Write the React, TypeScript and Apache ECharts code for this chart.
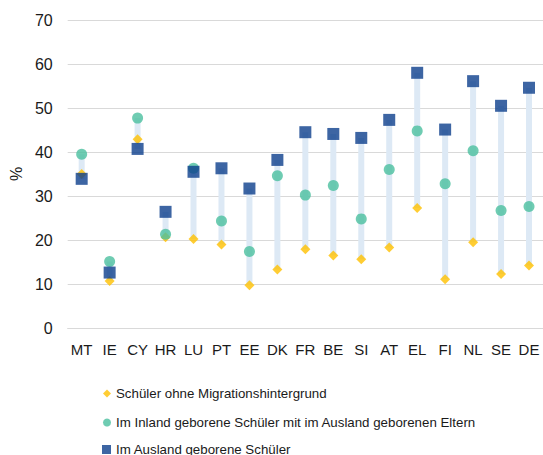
import React, { useEffect, useRef } from "react";
import * as echarts from "echarts";

const categories = ["MT", "IE", "CY", "HR", "LU", "PT", "EE", "DK", "FR", "BE", "SI", "AT", "EL", "FI", "NL", "SE", "DE"];
const nonMigrant = [35.0, 10.7, 42.9, 20.6, 20.2, 19.0, 9.7, 13.3, 17.9, 16.5, 15.6, 18.3, 27.3, 11.1, 19.5, 12.3, 14.2];
const secondGen = [39.5, 15.1, 47.7, 21.3, 36.3, 24.3, 17.4, 34.6, 30.2, 32.4, 24.8, 36.0, 44.8, 32.8, 40.3, 26.7, 27.6];
const firstGen = [33.9, 12.6, 40.7, 26.4, 35.5, 36.3, 31.7, 38.2, 44.5, 44.1, 43.2, 47.3, 58.0, 45.1, 56.1, 50.5, 54.6];
const yTicks = [0, 10, 20, 30, 40, 50, 60, 70];

const seriesNames = [
  "Schüler ohne Migrationshintergrund",
  "Im Inland geborene Schüler mit im Ausland geborenen Eltern",
  "Im Ausland geborene Schüler",
];
const legendIcons = ["diamond", "circle", "rect"];

const REG = "'Liberation Sans', Arial, sans-serif";

export default function App() {
  const ref = useRef<HTMLDivElement>(null);
  useEffect(() => {
    if (!ref.current) return;
    const chart = echarts.init(ref.current, undefined, { renderer: "svg" });
    const mins = categories.map((_, i) => Math.min(nonMigrant[i], secondGen[i], firstGen[i]));
    const maxs = categories.map((_, i) => Math.max(nonMigrant[i], secondGen[i], firstGen[i]));
    const ranges = maxs.map((m, i) => +(m - mins[i]).toFixed(2));
    const legendTops = [387, 416, 443];
    const legendSizes = [8, 8, 9];
    chart.setOption({
      animation: false,
      backgroundColor: "#ffffff",
      grid: { left: 65, right: 0, top: 20, bottom: 127 },
      legend: seriesNames.map((name, i) => ({
        orient: "vertical",
        left: 116 - 5 - legendSizes[i],
        top: legendTops[i],
        padding: 0,
        itemWidth: legendSizes[i],
        itemHeight: legendSizes[i],
        textStyle: { fontFamily: REG, fontSize: 13.3, color: "#1a1a1a" },
        data: [{ name, icon: legendIcons[i] }],
      })),
      xAxis: {
        type: "category",
        data: categories,
        axisTick: { show: false },
        axisLine: { lineStyle: { color: "#d9d9d9", width: 1 } },
        axisLabel: { fontFamily: REG, fontSize: 15, color: "#1a1a1a", margin: 14, interval: 0 },
      },
      yAxis: {
        type: "value",
        min: 0,
        max: 70,
        interval: 10,
        name: "%",
        nameLocation: "middle",
        nameRotate: 90,
        nameGap: 42,
        nameTextStyle: { fontFamily: REG, fontSize: 16, color: "#1a1a1a" },
        axisLine: { show: false },
        axisTick: { show: false },
        axisLabel: {
          fontFamily: REG,
          fontSize: 16,
          color: "#1a1a1a",
          margin: 15,
          formatter: (v: number) => (yTicks.includes(v) ? String(v) : ""),
        },
        splitLine: { lineStyle: { color: "#d9d9d9", width: 1 } },
      },
      series: [
        {
          type: "bar",
          stack: "range",
          data: mins,
          barWidth: 6,
          itemStyle: { color: "transparent" },
          silent: true,
        },
        {
          type: "bar",
          stack: "range",
          data: ranges,
          barWidth: 6,
          itemStyle: { color: "#dde9f5" },
          silent: true,
        },
        {
          name: seriesNames[0],
          type: "scatter",
          data: nonMigrant,
          symbol: "diamond",
          symbolSize: 10,
          itemStyle: { color: "#ffc000" },
          z: 3,
        },
        {
          name: seriesNames[1],
          type: "scatter",
          data: secondGen,
          symbol: "circle",
          symbolSize: 11,
          itemStyle: { color: "#4bbf9f" },
          z: 4,
        },
        {
          name: seriesNames[2],
          type: "scatter",
          data: firstGen,
          symbol: "rect",
          symbolSize: 12,
          itemStyle: { color: "#0d3f8c" },
          z: 5,
        },
      ],
    });
    return () => chart.dispose();
  }, []);
  return <div ref={ref} style={{ position: "fixed", left: 0, top: 0, width: 543, height: 455 }} />;
}
